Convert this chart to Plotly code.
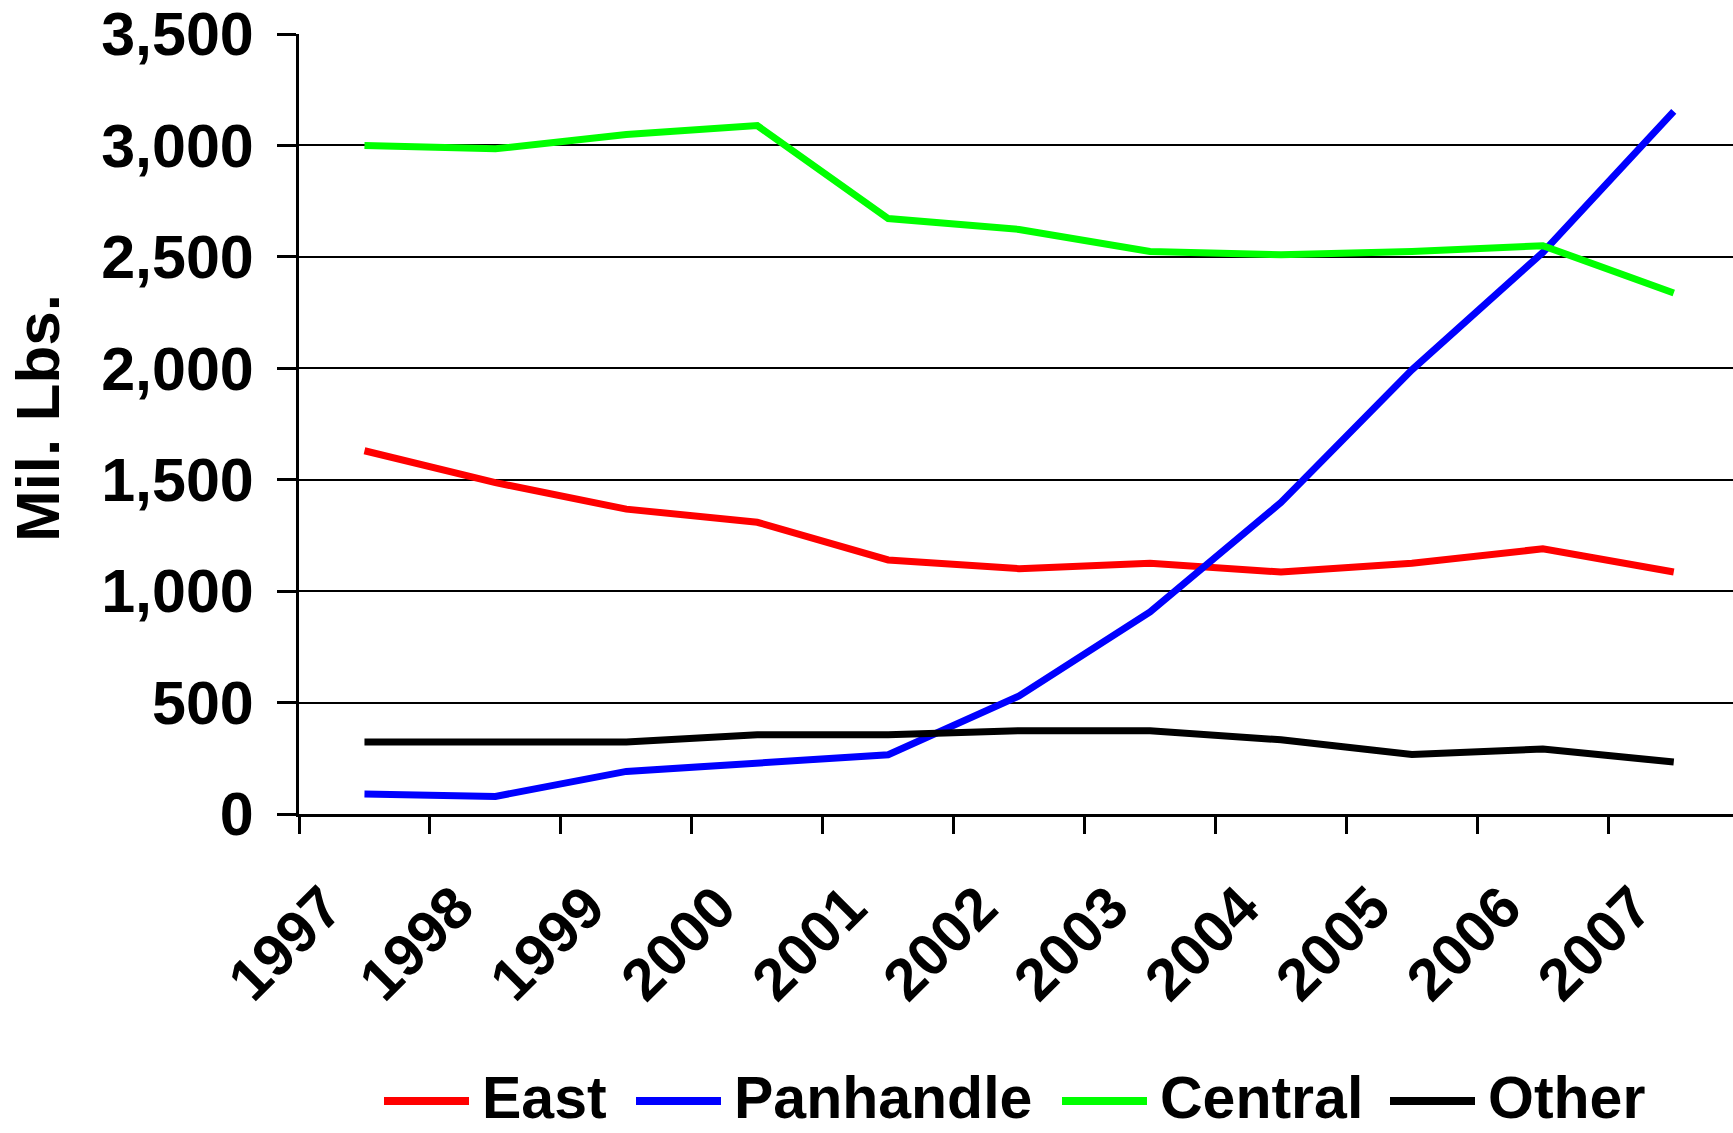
import plotly.graph_objects as go

years = ["1997", "1998", "1999", "2000", "2001", "2002", "2003", "2004", "2005", "2006", "2007"]
east = [1630, 1487, 1368, 1309, 1140, 1101, 1125, 1086, 1125, 1190, 1086]
panhandle = [90, 79, 191, 229, 266, 530, 907, 1398, 1993, 2520, 3153]
central = [3000, 2985, 3049, 3089, 2672, 2623, 2524, 2509, 2524, 2550, 2338]
other = [323, 323, 323, 356, 356, 374, 374, 333, 267, 292, 233]

series_names = ["East", "Panhandle", "Central", "Other"]
series_values = [east, panhandle, central, other]
series_colors = ["#FF0000", "#0000FF", "#00FF00", "#000000"]

FONT = "Liberation Sans, Arial, sans-serif"
FS = 58

W, H = 1733, 1133
L, T = 299, 34
PLOT_W = W - L
PLOT_H = 780
B = H - T - PLOT_H

idx = list(range(len(years)))

fig = go.Figure()
for name, vals, col in zip(series_names, series_values, series_colors):
    fig.add_trace(go.Scatter(
        x=idx, y=vals, name=name, mode="lines",
        line=dict(color=col, width=7),
        showlegend=False,
    ))

xmax = (W - L) / 130.93 - 0.5

fig.update_layout(
    width=W, height=H,
    margin=dict(l=L, r=0, t=T, b=B, autoexpand=False),
    paper_bgcolor="white", plot_bgcolor="white",
    font=dict(family=FONT, size=FS, color="black", weight="bold"),
    xaxis=dict(
        range=[-0.5, xmax],
        showgrid=False, zeroline=False,
        showline=True, linecolor="black", linewidth=3,
        tickmode="array",
        tickvals=[i - 0.3 for i in idx],
        ticktext=years,
        ticks="",
        tickangle=-45,
        ticklabelstandoff=32,
        tickfont=dict(family=FONT, size=59, color="black", weight="bold"),
        minor=dict(
            tickmode="array",
            tickvals=[i - 0.5 for i in idx] + [len(idx) - 0.5],
            ticks="outside", ticklen=17, tickwidth=2.5, tickcolor="black",
            showgrid=False,
        ),
    ),
    yaxis=dict(
        range=[0, 3500],
        tickmode="linear", tick0=0, dtick=500,
        tickformat=",",
        showgrid=True, gridcolor="black", gridwidth=2,
        zeroline=False,
        showline=True, linecolor="black", linewidth=3,
        ticks="outside", ticklen=19, tickwidth=2.5, tickcolor="black",
        ticklabelstandoff=11,
        tickfont=dict(family=FONT, size=61, color="black", weight="bold"),
    ),
)

# Y-axis title
fig.add_annotation(
    xref="paper", yref="paper",
    x=(37 - L) / PLOT_W, y=(T + PLOT_H - 418) / PLOT_H,
    text="Mil. Lbs.", textangle=-90, showarrow=False,
    xanchor="center", yanchor="middle",
    font=dict(family=FONT, size=62, color="black", weight="bold"),
)

# Manual legend
leg_text_bottom = (T + PLOT_H - H + 1) / PLOT_H
leg_y = (T + PLOT_H - 1101) / PLOT_H
line_starts = [384, 636, 1062, 1390]
for name, col, x0 in zip(series_names, series_colors, line_starts):
    fig.add_shape(
        type="line", xref="paper", yref="paper",
        x0=(x0 - L) / PLOT_W, x1=(x0 + 85 - L) / PLOT_W,
        y0=leg_y, y1=leg_y,
        line=dict(color=col, width=8),
    )
    fig.add_annotation(
        xref="paper", yref="paper",
        x=(x0 + 97 - L) / PLOT_W, y=leg_text_bottom,
        text=name, showarrow=False,
        xanchor="left", yanchor="bottom", borderpad=0,
        font=dict(family=FONT, size=FS + 1, color="black", weight="bold"),
    )

fig.write_html("out.html", config={"displayModeBar": False},
               post_script="document.body.style.margin='0';")
